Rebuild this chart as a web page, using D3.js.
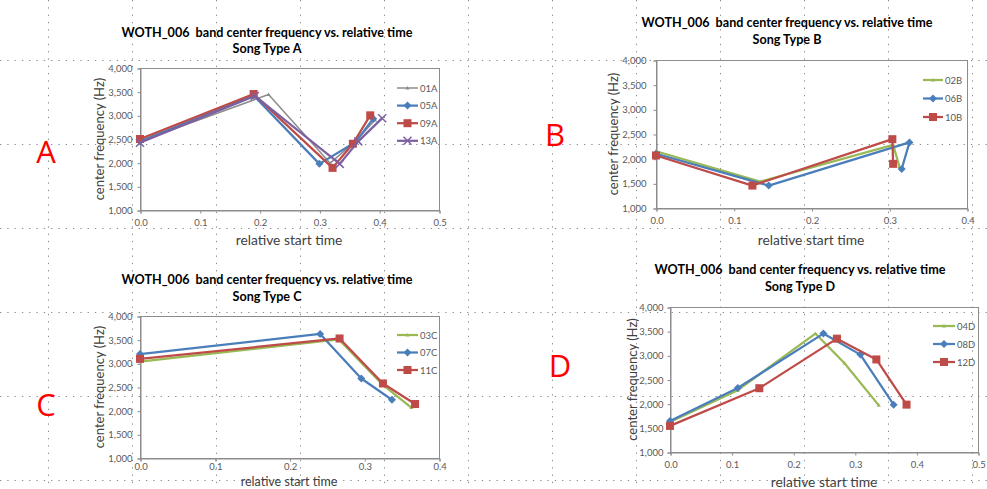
<!DOCTYPE html>
<html><head><meta charset="utf-8">
<script src="https://cdn.jsdelivr.net/npm/d3@7"></script>
<style>
html,body{margin:0;padding:0;background:#fff;}
svg text{font-family:Lato,"Open Sans","Liberation Sans",sans-serif;white-space:pre;}
</style></head>
<body><svg id="c" width="987" height="489"></svg>
<script>
// ---------------- data ----------------
const mainTitle = "WOTH_006  band center frequency vs. relative time";
const songTypes = ["A", "B", "C", "D"];
const yTicks = [1000, 1500, 2000, 2500, 3000, 3500, 4000];
const xTicksA = [0, 0.1, 0.2, 0.3, 0.4, 0.5];
const xTicksB = [0, 0.1, 0.2, 0.3, 0.4];
const xTicksC = [0, 0.1, 0.2, 0.3, 0.4];
const xTicksD = [0, 0.1, 0.2, 0.3, 0.4, 0.5];

const namesA = ["01A", "05A", "09A", "13A"];
const s01A = [[0, 2450], [0.215, 3440], [0.318, 1990], [0.36, 2450], [0.393, 2900]];
const s05A = [[0, 2450], [0.19, 3420], [0.30, 1975], [0.36, 2430], [0.39, 2930]];
const s09A = [[0, 2500], [0.19, 3450], [0.322, 1890], [0.356, 2400], [0.385, 3000]];
const s13A = [[0, 2420], [0.192, 3410], [0.334, 1975], [0.365, 2450], [0.405, 2940]];

const namesB = ["02B", "06B", "10B"];
const s02B = [[0, 2150], [0.134, 1535], [0.305, 2280], [0.313, 1840]];
const s06B = [[0, 2100], [0.145, 1455], [0.326, 2330], [0.316, 1790]];
const s10B = [[0, 2065], [0.124, 1455], [0.304, 2395], [0.305, 1895]];

const namesC = ["03C", "07C", "11C"];
const s03C = [[0, 3035], [0.266, 3505], [0.325, 2545], [0.363, 2065]];
const s07C = [[0, 3195], [0.241, 3620], [0.296, 2680], [0.337, 2230]];
const s11C = [[0, 3095], [0.267, 3525], [0.325, 2575], [0.368, 2140]];

const namesD = ["04D", "08D", "12D"];
const s04D = [[0, 1620], [0.11, 2280], [0.236, 3450], [0.283, 2840], [0.339, 1965]];
const s08D = [[0, 1640], [0.11, 2325], [0.249, 3450], [0.309, 3015], [0.363, 1980]];
const s12D = [[0, 1540], [0.145, 2320], [0.271, 3345], [0.335, 2915], [0.384, 1980]];

// ---------------- styles / layout ----------------
const styles = {
  gray:   {color: "#8c8c8c", width: 1.5, marker: "tri"},
  blue:   {color: "#4a7ebb", width: 2.25, marker: "diamond"},
  red:    {color: "#be4b48", width: 2.25, marker: "square"},
  purple: {color: "#7d60a0", width: 2.25, marker: "x"},
  green:  {color: "#98b954", width: 2.25, marker: "tri"}
};

const charts = [
  {type: "A", names: namesA, series: [s01A, s05A, s09A, s13A], sty: ["gray", "blue", "red", "purple"], xTicks: xTicksA,
   px0: 140, px1: 439, py0: 68, py1: 210, tx: 267, t1: 37, t2: 53, xtX: 289, xtBase: 244.5, xtSize: 13.8, ytX: 99, ylGap: 8, xlY: 223,
   lgX0: 397, lgX1: 418, lgY: 88, lgStep: 17.6, letter: [46, 152]},
  {type: "B", names: namesB, series: [s02B, s06B, s10B], sty: ["green", "blue", "red"], xTicks: xTicksB,
   px0: 656, px1: 967, py0: 60, py1: 208, tx: 787, t1: 27, t2: 44, xtX: 811, xtBase: 244.5, xtSize: 13.8, ytX: 613, ylGap: 10, xlY: 221,
   lgX0: 923, lgX1: 943, lgY: 80, lgStep: 18.5, letter: [555, 135]},
  {type: "C", names: namesC, series: [s03C, s07C, s11C], sty: ["green", "blue", "red"], xTicks: xTicksC,
   px0: 140, px1: 439, py0: 316, py1: 458, tx: 267, t1: 284, t2: 301, xtX: 289, xtBase: 486, xtSize: 12.5, ytX: 99, ylGap: 8, xlY: 467,
   lgX0: 397, lgX1: 418, lgY: 335, lgStep: 17.5, letter: [46, 405]},
  {type: "D", names: namesD, series: [s04D, s08D, s12D], sty: ["green", "blue", "red"], xTicks: xTicksD,
   px0: 670, px1: 978, py0: 307, py1: 452, tx: 800, t1: 274, t2: 291, xtX: 824, xtBase: 486.5, xtSize: 13.8, ytX: 632, ylGap: 7, xlY: 465,
   lgX0: 933, lgX1: 955, lgY: 326, lgStep: 18, letter: [560, 366]}
];

const svg = d3.select("#c");
svg.append("rect").attr("width", 987).attr("height", 489).attr("fill", "#fff");

// spreadsheet dotted cell grid
const gridXs = d3.range(48, 987, 84);
const gridYs = d3.range(60, 489, 84);
const grid = svg.append("g").attr("stroke", "#8a8a8a").attr("stroke-width", 1).attr("stroke-dasharray", "1.3,6");
gridXs.forEach(x => grid.append("line").attr("x1", x + 0.5).attr("x2", x + 0.5).attr("y1", 0).attr("y2", 489));
gridYs.forEach(y => grid.append("line").attr("y1", y + 0.5).attr("y2", y + 0.5).attr("x1", 0).attr("x2", 987));

function drawMarker(g, type, x, y, color) {
  if (type === "square") {
    g.append("rect").attr("x", x - 4).attr("y", y - 4).attr("width", 8).attr("height", 8).attr("fill", color);
  } else if (type === "diamond") {
    g.append("path").attr("d", `M${x},${y - 4}L${x + 4},${y}L${x},${y + 4}L${x - 4},${y}Z`).attr("fill", color);
  } else if (type === "x") {
    g.append("path").attr("d", `M${x - 4},${y - 4}L${x + 4},${y + 4}M${x - 4},${y + 4}L${x + 4},${y - 4}`)
      .attr("stroke", color).attr("stroke-width", 1.5).attr("fill", "none");
  } else {
    g.append("path").attr("d", `M${x},${y - 2}L${x + 2},${y + 1.5}L${x - 2},${y + 1.5}Z`).attr("fill", color);
  }
}

charts.forEach(c => {
  const g = svg.append("g");
  const x = d3.scaleLinear().domain([0, c.xTicks[c.xTicks.length - 1]]).range([c.px0, c.px1]);
  const y = d3.scaleLinear().domain([1000, 4000]).range([c.py1, c.py0]);

  // titles
  g.append("text").attr("x", c.tx).attr("y", c.t1).attr("text-anchor", "middle")
    .attr("font-size", 12.6).attr("font-weight", "bold").attr("fill", "#000").text(mainTitle);
  g.append("text").attr("x", c.tx).attr("y", c.t2).attr("text-anchor", "middle")
    .attr("font-size", 12.6).attr("font-weight", "bold").attr("fill", "#000").text("Song Type " + c.type);

  // plot border
  g.append("rect").attr("x", c.px0 + 0.5).attr("y", c.py0 + 0.5).attr("width", c.px1 - c.px0).attr("height", c.py1 - c.py0)
    .attr("fill", "none").attr("stroke", "#8c8c8c").attr("stroke-width", 1);

  // axes
  const xAxis = d3.axisBottom(x).tickValues(c.xTicks).tickFormat(d3.format(".1f")).tickSize(3).tickPadding(c.xlY - c.py1 - 7);
  const xg = g.append("g").attr("transform", `translate(0.5,${c.py1 + 0.5})`).call(xAxis);
  const yAxis = d3.axisLeft(y).tickValues(yTicks).tickFormat(d3.format(",")).tickSize(3).tickPadding(c.ylGap - 3);
  const yg = g.append("g").attr("transform", `translate(${c.px0 + 0.5},0.5)`).call(yAxis);
  [xg, yg].forEach(a => {
    a.select(".domain").attr("stroke", "#8c8c8c");
    a.selectAll(".tick line").attr("stroke", "#8c8c8c");
    a.selectAll(".tick text").attr("fill", "#595959").attr("font-size", 9.5)
      .style("font-family", "Lato,'Open Sans',sans-serif");
  });

  // axis titles
  g.append("text").attr("x", c.xtX).attr("y", c.xtBase).attr("text-anchor", "middle")
    .attr("font-size", c.xtSize).attr("fill", "#404040").text("relative start time");
  g.append("text").attr("transform", `translate(${c.ytX + 4.5},${(c.py0 + c.py1) / 2}) rotate(-90)`)
    .attr("text-anchor", "middle").attr("font-size", 13).attr("fill", "#404040").text("center frequency (Hz)");

  // series
  const line = d3.line().x(d => x(d[0])).y(d => y(d[1]));
  c.series.forEach((s, i) => {
    const st = styles[c.sty[i]];
    g.append("path").attr("d", line(s)).attr("fill", "none").attr("stroke", st.color)
      .attr("stroke-width", st.width).attr("stroke-linejoin", "round");
    s.forEach(d => drawMarker(g, st.marker, x(d[0]), y(d[1]), st.color));
  });

  // legend
  c.names.forEach((n, i) => {
    const st = styles[c.sty[i]];
    const ly = c.lgY + i * c.lgStep;
    g.append("line").attr("x1", c.lgX0).attr("x2", c.lgX1).attr("y1", ly).attr("y2", ly)
      .attr("stroke", st.color).attr("stroke-width", st.width);
    drawMarker(g, st.marker, (c.lgX0 + c.lgX1) / 2, ly, st.color);
    g.append("text").attr("x", c.lgX1 + 2).attr("y", ly + 3.5).attr("font-size", 9.5).attr("fill", "#595959").text(n);
  });

  // big red panel letter
  svg.append("text").attr("x", c.letter[0]).attr("y", c.letter[1] + 11).attr("text-anchor", "middle")
    .attr("font-size", 31).attr("fill", "#ff0000").style("font-family", "'Open Sans',Lato,sans-serif").text(c.type);
});
</script></body></html>
